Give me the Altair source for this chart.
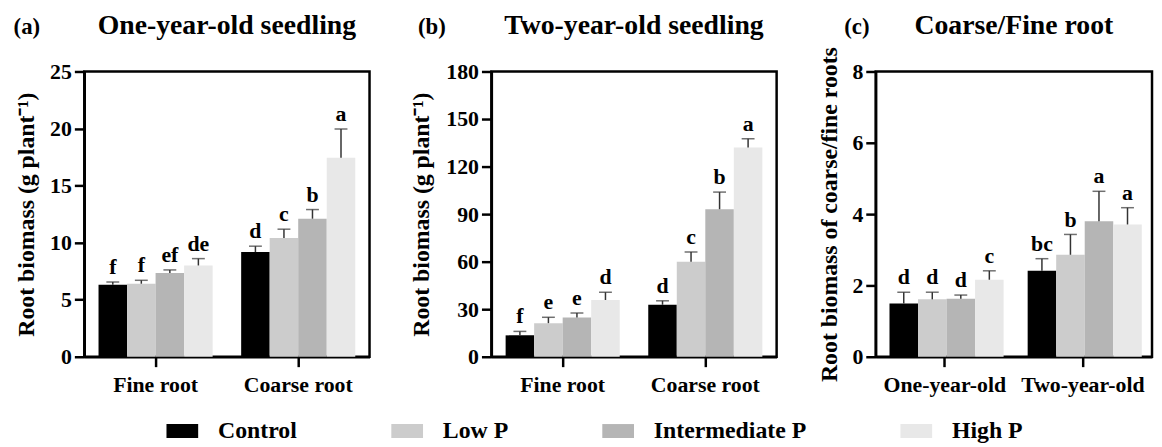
import altair as alt
import pandas as pd

FONT = "Liberation Serif"

treatments = ["Control", "Low P", "Intermediate P", "High P"]
colors = ["#000000", "#cccccc", "#b5b5b5", "#e8e8e8"]

a_groups = ["Fine root", "Coarse root"]
a_vals = [6.3, 6.4, 7.35, 8.0, 9.17, 10.4, 12.1, 17.45]
a_err = [0.25, 0.3, 0.26, 0.6, 0.52, 0.78, 0.8, 2.5]
a_letters = ["f", "f", "ef", "de", "d", "c", "b", "a"]

b_groups = ["Fine root", "Coarse root"]
b_vals = [13.5, 21.2, 24.7, 35.8, 32.8, 59.9, 93.1, 132.0]
b_err = [2.5, 3.7, 2.9, 4.9, 2.5, 6.2, 10.8, 5.6]
b_letters = ["f", "e", "e", "d", "d", "c", "b", "a"]

c_groups = ["One-year-old", "Two-year-old"]
c_vals = [1.49, 1.61, 1.63, 2.16, 2.41, 2.86, 3.80, 3.71]
c_err = [0.32, 0.20, 0.10, 0.25, 0.34, 0.57, 0.84, 0.47]
c_letters = ["d", "d", "d", "c", "bc", "b", "a", "a"]

H = 288


def make_df(groups, vals, errs, letters):
    rows = []
    i = 0
    for g in groups:
        for t in treatments:
            rows.append({"group": g, "treatment": t, "value": vals[i],
                         "top": vals[i] + errs[i], "letter": letters[i]})
            i += 1
    return pd.DataFrame(rows)


def panel(df, groups, ymax, step, ytitle, title, tag, tag_x, show_legend, ytitle_pad, W):
    x = alt.X("group:N", sort=groups, title=None,
              scale=alt.Scale(paddingInner=0.2, paddingOuter=0.1),
              axis=alt.Axis(labelAngle=0, tickSize=10, labelFontSize=22, labelPadding=8))
    xo = alt.XOffset("treatment:N", sort=treatments,
                     scale=alt.Scale(paddingInner=0, paddingOuter=0))
    yscale = alt.Scale(domain=[0, ymax], nice=False)
    base = alt.Chart(df).encode(x=x, xOffset=xo)
    if show_legend:
        leg = alt.Legend(
            orient="none", direction="horizontal", columns=4, title=None,
            legendX=83, legendY=347, padding=0,
            symbolType="M-1,-0.44L1,-0.44L1,0.44L-1,0.44Z", symbolSize=1024,
            symbolStrokeWidth=0, labelFont=FONT, labelFontWeight="bold",
            labelFontSize=24, labelColor="black", labelOffset=20,
            columnPadding=95, labelLimit=400)
    else:
        leg = None
    bars = base.mark_bar().encode(
        y=alt.Y("value:Q", scale=yscale, title=ytitle,
                axis=alt.Axis(values=list(range(0, ymax + 1, step)), titlePadding=ytitle_pad)),
        color=alt.Color("treatment:N", sort=treatments,
                        scale=alt.Scale(domain=treatments, range=colors), legend=leg),
    )
    rules = base.mark_rule(color="#333333", strokeWidth=1.5).encode(
        y=alt.Y("value:Q", scale=yscale), y2="top:Q")
    caps = base.mark_tick(color="#333333", thickness=1.5, size=13).encode(
        y=alt.Y("top:Q", scale=yscale))
    labels = base.mark_text(baseline="bottom", dy=-3, font=FONT, fontWeight="bold",
                            fontSize=22, color="black").encode(
        y=alt.Y("top:Q", scale=yscale), text="letter:N")
    tag_df = pd.DataFrame({"t": [tag], "title": [title]})
    tagm = alt.Chart(tag_df).mark_text(font=FONT, fontWeight="bold", fontSize=23,
                                       baseline="alphabetic", align="center",
                                       color="black").encode(
        x=alt.value(tag_x), y=alt.value(-38), text="t:N")
    titlem = alt.Chart(tag_df).mark_text(font=FONT, fontWeight="bold", fontSize=28,
                                         baseline="alphabetic", align="center",
                                         color="black").encode(
        x=alt.value(W / 2), y=alt.value(-38), text="title:N")
    return alt.layer(bars, rules, caps, labels, tagm, titlem).properties(
        width=W, height=H)


pa = panel(make_df(a_groups, a_vals, a_err, a_letters), a_groups, 25, 5,
           "Root biomass (g plant⁻¹)", "One-year-old seedling", "(a)", -58, True, 11, 288)
pb = panel(make_df(b_groups, b_vals, b_err, b_letters), b_groups, 180, 30,
           "Root biomass (g plant⁻¹)", "Two-year-old seedling", "(b)", -60, False, 12, 288)
pc = panel(make_df(c_groups, c_vals, c_err, c_letters), c_groups, 8, 2,
           "Root biomass of coarse/fine roots", "Coarse/Fine root", "(c)", -19, False, 11, 279)

chart = alt.hconcat(pa, pb, pc, spacing=37).resolve_scale(
    color="shared").resolve_legend(color="shared").properties(
    padding={"left": 4, "top": 0, "right": 0, "bottom": 0},
    background="white"
).configure_view(stroke="black", strokeWidth=2.5).configure_axis(
    domainColor="black", domainWidth=2.5, tickColor="black", tickWidth=2.5,
    tickSize=10, labelFont=FONT, labelFontWeight="bold", labelFontSize=22,
    labelColor="black", titleFont=FONT, titleFontWeight="bold", titleFontSize=24,
    titleColor="black", grid=False, labelPadding=3
).configure_legend(labelFont=FONT, labelFontWeight="bold", labelFontSize=24,
                   labelColor="black")

chart.save("out.html", embed_options={"renderer": "svg", "actions": False})
